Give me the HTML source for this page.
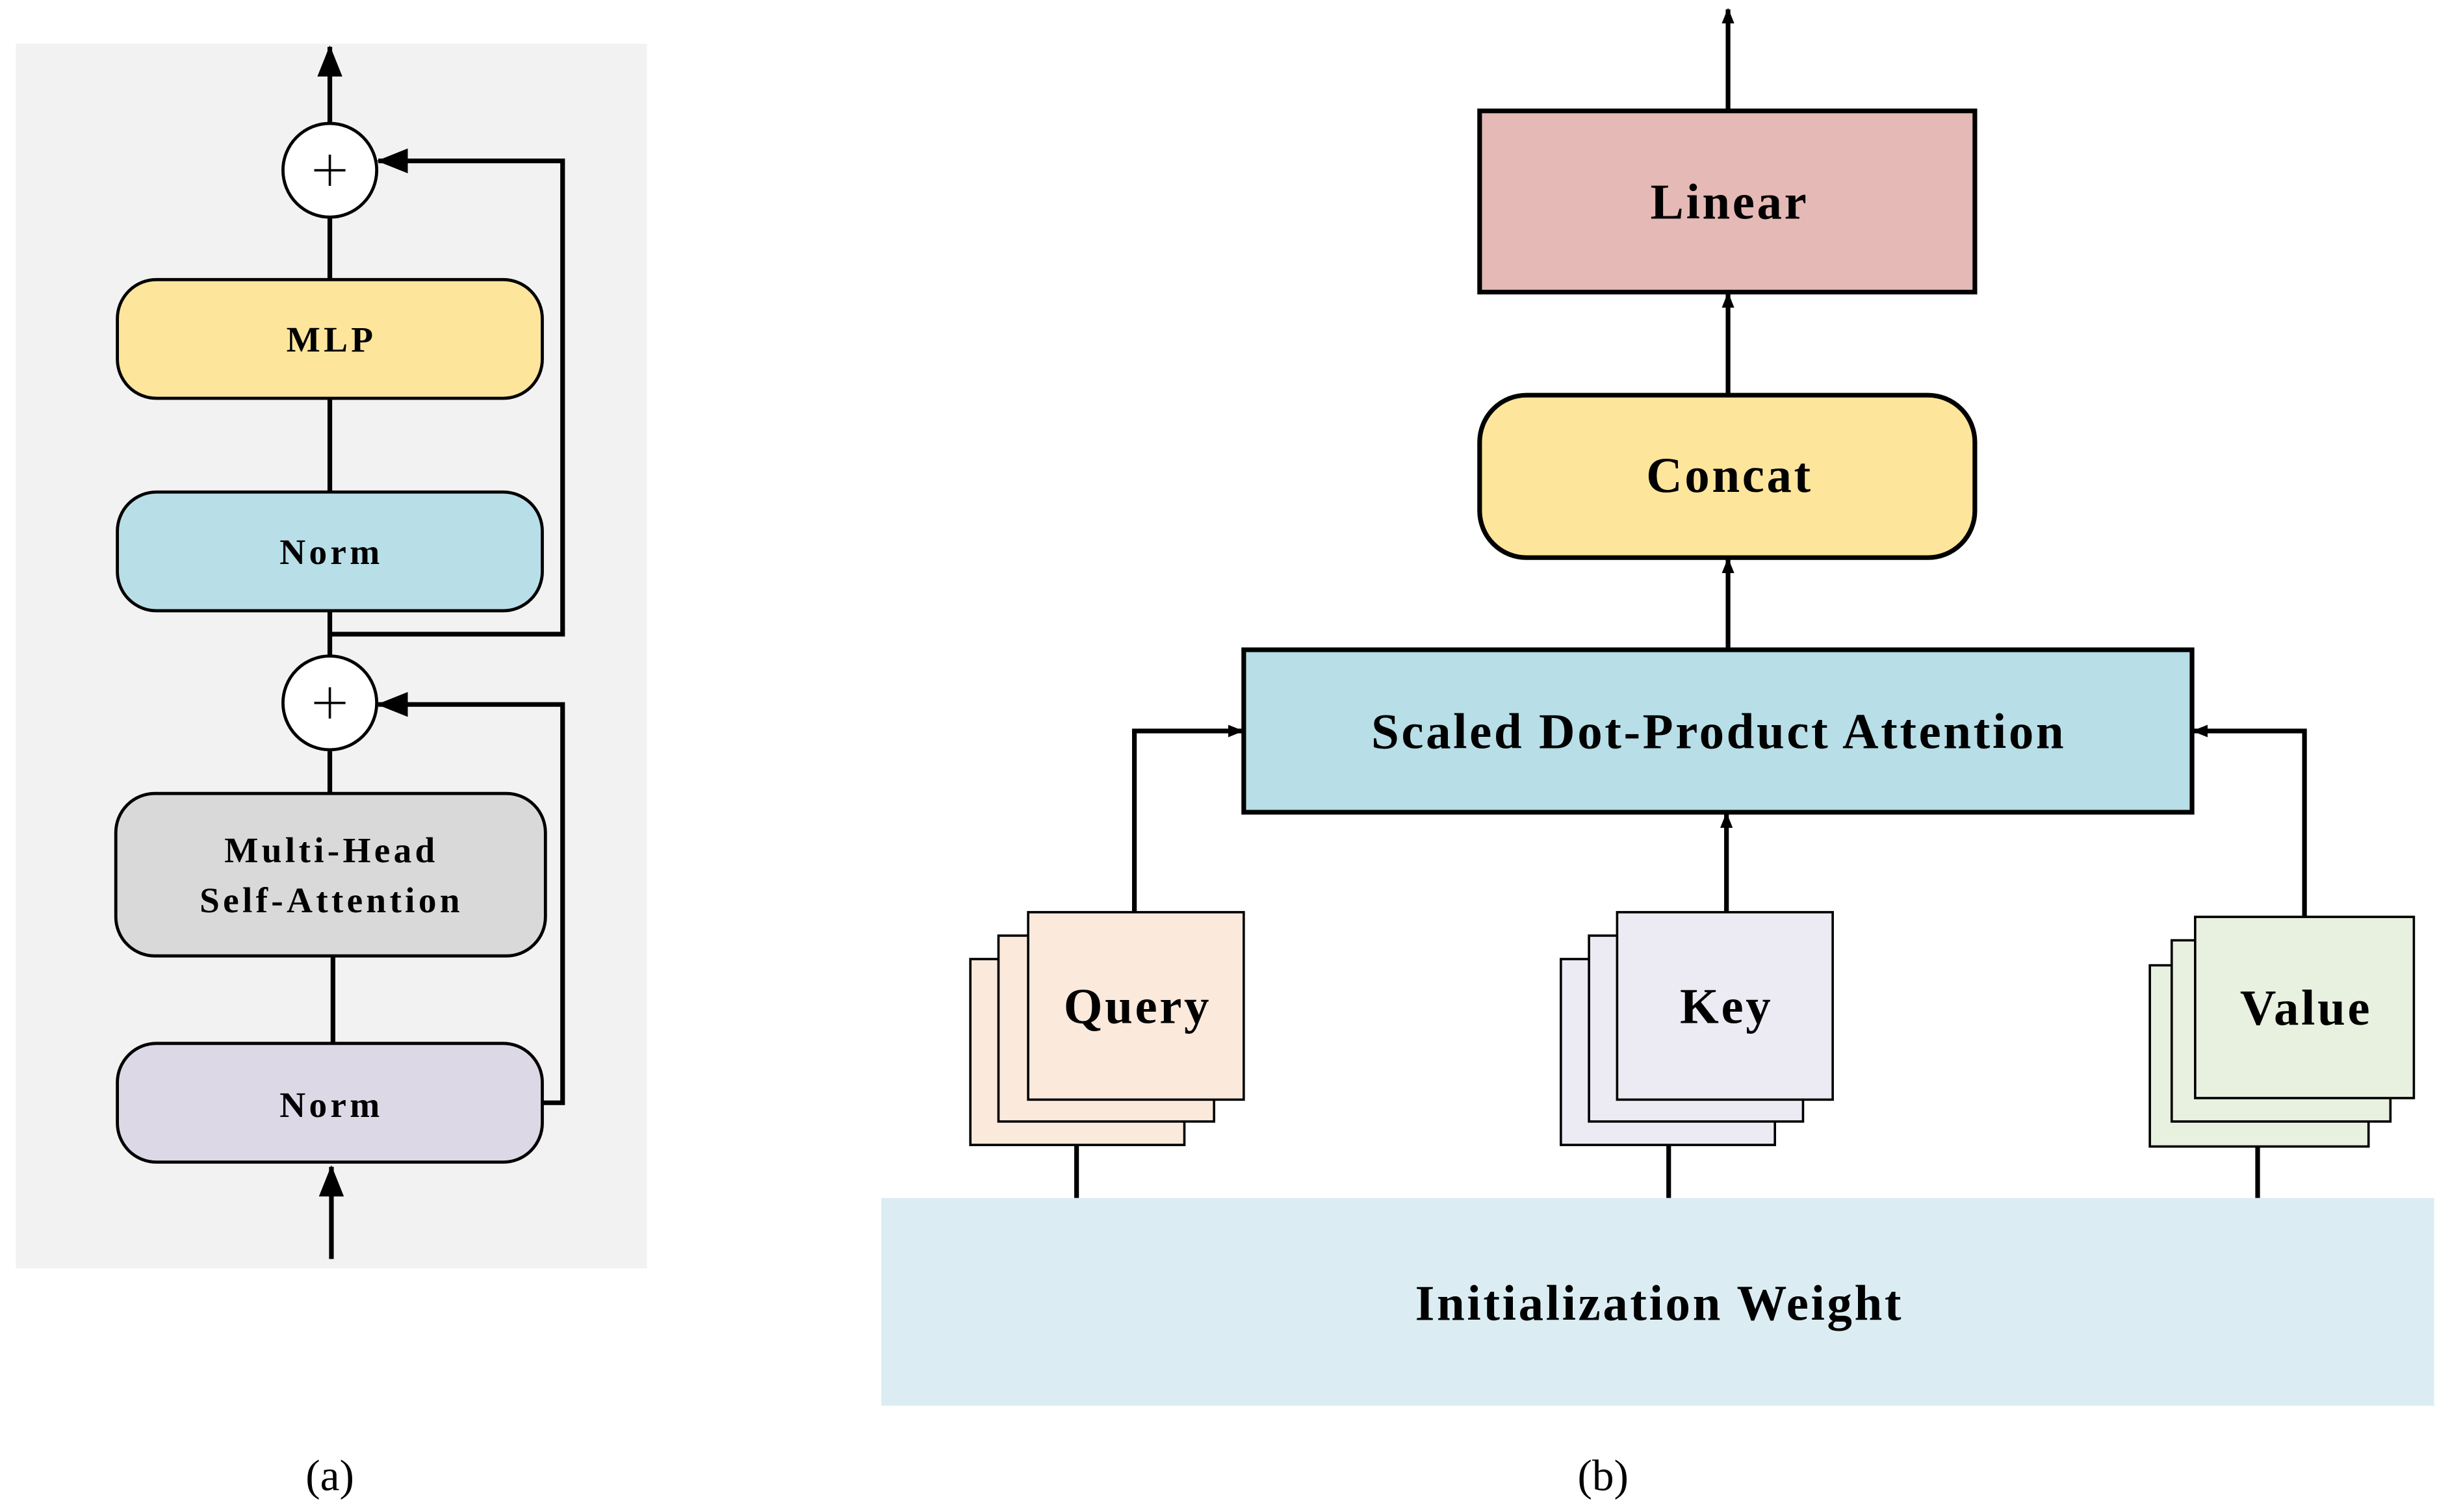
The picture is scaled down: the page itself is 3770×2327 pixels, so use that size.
<!DOCTYPE html>
<html><head><meta charset="utf-8"><style>html,body{margin:0;padding:0;background:#fff}svg{display:block}</style></head>
<body>
<svg width="3770" height="2327" viewBox="0 0 1568 968" xmlns="http://www.w3.org/2000/svg" font-family="'Liberation Serif', serif" font-weight="bold">
<defs>
<marker id="ah" markerWidth="10" markerHeight="10" refX="9" refY="5" orient="auto" markerUnits="userSpaceOnUse" viewBox="0 0 10 10"><path d="M0,1 L10,5 L0,9 z" fill="#000"/></marker>
<marker id="ahb" markerWidth="20" markerHeight="16" refX="19" refY="8" orient="auto" markerUnits="userSpaceOnUse" viewBox="0 0 20 16"><path d="M0,0 L20,8 L0,16 z" fill="#000"/></marker>
</defs>
<!-- (a) -->
<rect x="10" y="28" width="404" height="784" fill="#f2f2f2"/>
<g stroke="#000" stroke-width="3" fill="none">
<line x1="211" y1="79" x2="211" y2="30" marker-end="url(#ahb)"/>
<line x1="211" y1="139" x2="211" y2="179"/>
<line x1="211" y1="255" x2="211" y2="315"/>
<line x1="211" y1="391" x2="211" y2="420"/>
<line x1="211" y1="480" x2="211" y2="508"/>
<line x1="213" y1="612" x2="213" y2="668"/>
<line x1="212" y1="806" x2="212" y2="747" marker-end="url(#ahb)"/>
<polyline points="211,406 360,406 360,103 242,103" marker-end="url(#ahb)"/>
<polyline points="347,706 360,706 360,451 242,451" marker-end="url(#ahb)"/>
</g>
<g stroke="#000" stroke-width="2">
<circle cx="211" cy="109" r="30" fill="#fff"/>
<circle cx="211" cy="450" r="30" fill="#fff"/>
<rect x="75" y="179" width="272" height="76" rx="25" fill="#fde59b"/>
<rect x="75" y="315" width="272" height="76" rx="25" fill="#b8dee7"/>
<rect x="74" y="508" width="275" height="104" rx="25" fill="#d9d9d9"/>
<rect x="75" y="668" width="272" height="76" rx="25" fill="#ddd8e6"/>
</g>
<g stroke="#000" stroke-width="1.5"><line x1="201" y1="109" x2="221" y2="109"/><line x1="211" y1="99" x2="211" y2="119"/><line x1="201" y1="450" x2="221" y2="450"/><line x1="211" y1="440" x2="211" y2="460"/></g>
<g font-size="23" text-anchor="middle" fill="#000" letter-spacing="2.2">
<text x="212" y="225">MLP</text>
<text x="212" y="361">Norm</text>
<text x="212" y="552">Multi-Head</text>
<text x="212" y="584">Self-Attention</text>
<text x="212" y="715">Norm</text>
</g>
<text x="211" y="954" font-size="28" font-weight="normal" text-anchor="middle">(a)</text>
<!-- (b) -->
<g stroke="#000" stroke-width="3" fill="none">
<line x1="1106" y1="71" x2="1106" y2="6" marker-end="url(#ah)"/>
<line x1="1106" y1="253" x2="1106" y2="188" marker-end="url(#ah)"/>
<line x1="1106" y1="416" x2="1106" y2="358" marker-end="url(#ah)"/>
<line x1="1105" y1="584" x2="1105" y2="521" marker-end="url(#ah)"/>
<polyline points="726,584 726,468 795,468" marker-end="url(#ah)"/>
<polyline points="1475,587 1475,468 1404,468" marker-end="url(#ah)"/>
<line x1="689" y1="733" x2="689" y2="767"/>
<line x1="1068" y1="733" x2="1068" y2="767"/>
<line x1="1445" y1="734" x2="1445" y2="767"/>
</g>
<rect x="947" y="71" width="317" height="116" fill="#e5b9b5" stroke="#000" stroke-width="3"/>
<rect x="947" y="253" width="317" height="104" rx="30" fill="#fde59b" stroke="#000" stroke-width="3"/>
<rect x="796" y="416" width="607" height="104" fill="#b8dee7" stroke="#000" stroke-width="3"/>
<g stroke="#000" stroke-width="1.5">
<rect x="621" y="614" width="137" height="119" fill="#fbe9dc"/>
<rect x="639" y="599" width="138" height="119" fill="#fbe9dc"/>
<rect x="658" y="584" width="138" height="120" fill="#fbe9dc"/>
<rect x="999" y="614" width="137" height="119" fill="#eceaf2"/>
<rect x="1017" y="599" width="137" height="119" fill="#eceaf2"/>
<rect x="1035" y="584" width="138" height="120" fill="#eceaf2"/>
<rect x="1376" y="618" width="140" height="116" fill="#e8f0df"/>
<rect x="1390" y="602" width="140" height="116" fill="#e8f0df"/>
<rect x="1405" y="587" width="140" height="116" fill="#e8f0df"/>
</g>
<rect x="564" y="767" width="994" height="133" fill="#dbedf3"/>
<g font-size="32" text-anchor="middle" fill="#000" letter-spacing="1.5">
<text x="1107" y="140">Linear</text>
<text x="1107" y="315">Concat</text>
<text x="1100" y="479">Scaled Dot-Product Attention</text>
<text x="728" y="655">Query</text>
<text x="1105" y="655">Key</text>
<text x="1476" y="656">Value</text>
<text x="1062" y="845">Initialization Weight</text>
</g>
<text x="1026" y="954" font-size="28" font-weight="normal" text-anchor="middle">(b)</text>
</svg>
</body></html>
